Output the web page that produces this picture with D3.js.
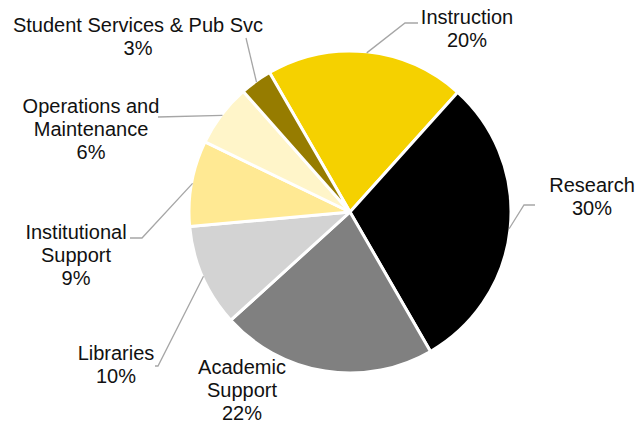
<!DOCTYPE html>
<meta charset="utf-8">
<style>
    body { margin: 0; background: #fff; }
    .label { font-family: "Liberation Sans", Arial, sans-serif; font-size: 20px; fill: #111; }
    .leader { fill: none; stroke: #a6a6a6; stroke-width: 1.3; }
</style>
<svg width="638" height="424"></svg>
<script src="https://cdn.jsdelivr.net/npm/d3@7"></script>
<script>

    // data, clockwise from the first slice
    var categories = ["Instruction", "Research", "Academic Support", "Libraries",
        "Institutional Support", "Operations and Maintenance", "Student Services & Pub Svc"];
    var shares = [20.0, 30.0, 21.6, 10.3, 8.6, 6.3, 3.2];
    var colors = ["#f5d100", "#000000", "#808080", "#d3d3d3", "#ffe993", "#fff5c9", "#967c00"];

    // label layout: text lines, centre x, first baseline, leader bend points
    var labelLines = [
        ["Instruction"], ["Research"], ["Academic", "Support"], ["Libraries"],
        ["Institutional", "Support"], ["Operations and", "Maintenance"], ["Student Services & Pub Svc"]
    ];
    var labelPos = [[467, 24], [592, 192], [242, 374], [116, 360], [76, 239], [91, 113], [138, 32]];
    var leaderPts = [
        [[405, 23], [418, 23]],
        [[524, 205], [535, 205]],
        null,
        [[158, 366], [155, 366]],
        [[142, 238], [130, 238]],
        [[158, 117]],
        [[246, 38]]
    ];

    var svg = d3.select("svg"),
        cx = 350, cy = 212, radius = 161;

    var total = d3.sum(shares);

    var pie = d3.pie()
        .sort(null)
        .startAngle(-30 * Math.PI / 180)
        .endAngle(330 * Math.PI / 180);

    var arc = d3.arc().innerRadius(0).outerRadius(radius);

    var g = svg.append("g").attr("transform", "translate(" + cx + "," + cy + ")");

    var arcs = pie(shares);

    g.selectAll("path.slice")
        .data(arcs)
        .enter().append("path")
        .attr("class", "slice")
        .attr("d", arc)
        .attr("fill", function (d, i) { return colors[i]; })
        .attr("stroke", "#fff")
        .attr("stroke-width", 3)
        .attr("stroke-linejoin", "round");

    // leader lines from the outer edge at the slice's mid angle
    var line = d3.line();
    arcs.forEach(function (d, i) {
        if (!leaderPts[i]) return;
        var a = (d.startAngle + d.endAngle) / 2;
        var start = [cx + (radius - 1) * Math.sin(a), cy - (radius - 1) * Math.cos(a)];
        svg.append("path")
            .attr("class", "leader")
            .attr("d", line([start].concat(leaderPts[i])));
    });

    // labels
    arcs.forEach(function (d, i) {
        var lines = labelLines[i].concat([Math.round(shares[i] / total * 100) + "%"]);
        var t = svg.append("text")
            .attr("class", "label")
            .attr("text-anchor", "middle")
            .attr("x", labelPos[i][0])
            .attr("y", labelPos[i][1]);
        lines.forEach(function (s, k) {
            t.append("tspan")
                .attr("x", labelPos[i][0])
                .attr("dy", k ? 22.8 : 0)
                .text(s);
        });
    });

</script>
